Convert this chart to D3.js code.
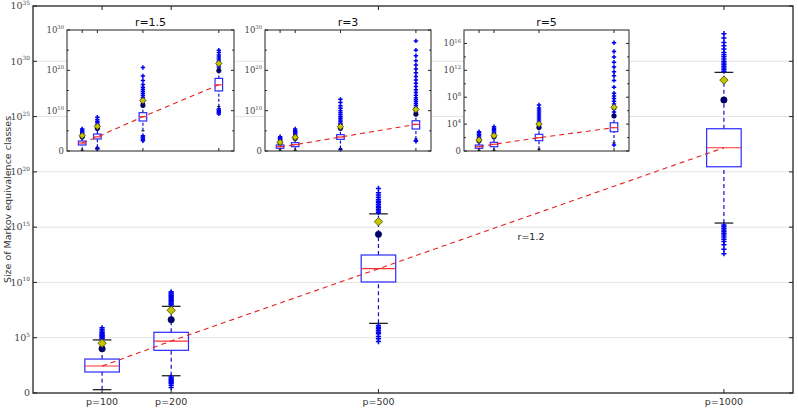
<!DOCTYPE html>
<html>
<head>
<meta charset="utf-8">
<script src="https://cdn.jsdelivr.net/npm/d3@7"></script>
<style>
  body { margin: 0; background: #fff; }
  svg { display: block; }
</style>
</head>
<body>
<div id="chart"></div>
<script>
// number of variables on the x axis
const pVals = [100, 200, 500, 1000];
const pLabels = ["p=100", "p=200", "p=500", "p=1000"];

// all y values are log10 of the class size
// boxes: [lower cap, q1, median, q3, upper cap]
const mainBoxes = [[0.3, 1.9, 2.44, 3.07, 4.8], [1.56, 3.86, 4.7, 5.49, 7.84], [6.3, 10.04, 11.24, 12.48, 16.2], [15.37, 20.46, 22.18, 23.9, 29.0]];
const mainMeans = [4.5, 7.48, 15.5, 28.3];
const mainCircles = [4.0, 6.63, 14.35, 26.5];
const mainHigh = [
  [4.9, 5.0, 5.1, 5.15, 5.2, 5.3, 5.4, 5.5, 5.6, 5.75, 5.9],
  [7.95, 8.05, 8.15, 8.25, 8.35, 8.45, 8.55, 8.65, 8.75, 8.85, 8.95, 9.05, 9.15],
  [16.3, 16.45, 16.6, 16.75, 16.9, 17.05, 17.2, 17.35, 17.5, 17.7, 17.9, 18.1, 18.5],
  [29.1, 29.25, 29.4, 29.55, 29.7, 29.85, 30.0, 30.2, 30.4, 30.6, 30.8, 31.1, 31.4, 31.7, 32.1, 32.5]
];
const mainLow = [
  [],
  [1.45, 1.35, 1.25, 1.15, 1.05, 0.95, 0.85, 0.7, 0.5],
  [6.1, 5.95, 5.8, 5.65, 5.5, 5.35, 5.1, 4.9, 4.65],
  [15.2, 15.05, 14.9, 14.75, 14.6, 14.45, 14.3, 14.1, 13.9, 13.7, 13.4, 13.0, 12.6]
];

// inset r=1.5
const r15Boxes = [[0.2, 1.49, 1.98, 2.48, 3.3], [0.9, 2.98, 3.5, 4.2, 5.3], [5.0, 7.44, 8.5, 9.5, 11.5], [11.0, 14.9, 16.4, 18.0, 20.5]];
const r15Means = [3.8, 6.1, 12.5, 21.7];
const r15Circles = [3.5, 5.6, 11.3, 19.9];
const r15High = [
  [3.4, 3.7, 4.0, 4.3, 4.6, 4.9, 5.2, 5.45],
  [5.5, 5.8, 6.2, 6.6, 7.0, 7.4, 7.8, 8.35],
  [11.8, 12.3, 12.8, 13.3, 13.8, 14.3, 14.8, 15.3, 15.8, 16.5, 17.5, 18.6, 20.7],
  [20.8, 21.3, 21.8, 22.3, 22.8, 23.3, 23.8, 24.4, 25.0]
];
const r15Low = [[], [0.66, 0.5], [3.8, 3.5, 3.2, 2.9, 2.55], [10.4, 10.1, 9.8, 9.5, 9.2]];

// inset r=3
const r3Boxes = [[0.2, 0.67, 1.07, 1.49, 2.4], [0.2, 1.07, 1.57, 2.07, 3.2], [0.6, 2.89, 3.47, 4.05, 5.5], [3.0, 5.45, 6.6, 7.5, 9.5]];
const r3Means = [2.15, 3.4, 6.03, 10.3];
const r3Circles = [2.0, 3.1, 5.6, 9.1];
const r3High = [
  [2.5, 2.7, 2.9, 3.1, 3.3, 3.55],
  [3.3, 3.6, 3.9, 4.2, 4.5, 4.8, 5.1, 5.45],
  [5.7, 6.1, 6.5, 6.9, 7.3, 7.7, 8.1, 8.5, 9.0, 9.5, 10.0, 10.6, 11.2, 12.0, 12.8],
  [9.7, 10.2, 10.7, 11.2, 11.7, 12.2, 12.7, 13.2, 13.8, 14.5, 15.2, 16.0, 16.8, 17.6, 18.5, 19.4, 20.3, 21.3, 22.4, 23.6, 25.0, 27.3]
];
const r3Low = [[], [], [0.4], [2.6, 2.4]];

// inset r=5
const r5Boxes = [[0.1, 0.4, 0.64, 0.89, 1.5], [0.1, 0.64, 1.0, 1.29, 2.0], [0.25, 1.53, 1.98, 2.48, 3.3], [1.2, 2.87, 3.47, 4.2, 5.0]];
const r5Means = [1.64, 2.28, 4.0, 6.5];
const r5Circles = [1.5, 2.1, 3.5, 5.2];
const r5High = [
  [1.7, 1.9, 2.1, 2.3, 2.5, 2.7, 2.87],
  [2.2, 2.4, 2.6, 2.8, 3.0, 3.2, 3.4, 3.6],
  [3.4, 3.7, 4.0, 4.3, 4.6, 4.9, 5.2, 5.5, 5.8, 6.1, 6.4, 6.85],
  [5.4, 5.8, 6.2, 6.6, 7.0, 7.4, 7.8, 8.2, 8.6, 9.5, 10.5, 11.2, 11.8, 12.5, 13.2, 14.0, 14.8, 16.1]
];
const r5Low = [[], [], [], [0.9]];

const mainTicks = [0, 5, 10, 15, 20, 25, 30, 35];
const r15Ticks = [0, 10, 20, 30];
const r15Minor = [5, 15, 25];
const r5Ticks = [0, 4, 8, 12, 16];
const r5Minor = [2, 6, 10, 14];

const W = 798, H = 414;
const svg = d3.select("#chart").append("svg").attr("width", W).attr("height", H);

const BLUE = "#2a2aff", RED = "#ff3030";

// y tick label: "0" or 10 with superscript
function expLabel(sel, e, fs) {
  if (e === 0) { sel.text("0"); return; }
  sel.append("tspan").text("10");
  sel.append("tspan").attr("dy", -fs * 0.45).attr("font-size", fs * 0.62).text(e);
}

function panel(box, yMax, data, opt) {
  const x = d3.scaleLinear().domain([0, 1100]).range([box.left, box.right]);
  const y = d3.scaleLinear().domain([0, yMax]).range([box.bottom, box.top]);
  const g = svg.append("g");

  g.append("rect").attr("x", box.left).attr("y", box.top)
    .attr("width", box.right - box.left).attr("height", box.bottom - box.top)
    .attr("fill", "#fff");

  if (opt.grid) {
    g.selectAll(".grid").data(opt.ticks.slice(1, -1)).join("line")
      .attr("x1", box.left).attr("x2", box.right)
      .attr("y1", d => y(d)).attr("y2", d => y(d))
      .attr("stroke", "#e4e4e4").attr("stroke-width", 1);
  }

  // inward ticks on both sides
  const ticks = opt.ticks.map(d => ({v: d, len: opt.tickLen}))
    .concat((opt.minor || []).map(d => ({v: d, len: opt.tickLen * 0.6})));
  ticks.forEach(t => {
    g.append("line").attr("x1", box.left).attr("x2", box.left + t.len)
      .attr("y1", y(t.v)).attr("y2", y(t.v)).attr("stroke", "#222");
    g.append("line").attr("x1", box.right).attr("x2", box.right - t.len)
      .attr("y1", y(t.v)).attr("y2", y(t.v)).attr("stroke", "#222");
  });
  opt.ticks.forEach(v => {
    const t = g.append("text").attr("x", box.left - 3).attr("y", y(v) + opt.fs * 0.35)
      .attr("text-anchor", "end").attr("font-family", "DejaVu Serif, serif")
      .attr("font-size", opt.fs).attr("fill", "#444");
    expLabel(t, v, opt.fs);
  });

  const bw = x(50) - x(0), cw = x(opt.capUnits) - x(0);

  pVals.forEach((p, i) => {
    const cx = x(p), b = data.boxes[i];
    // whiskers
    g.append("line").attr("x1", cx).attr("x2", cx).attr("y1", y(b[0])).attr("y2", y(b[1]))
      .attr("stroke", "#1010cc").attr("stroke-dasharray", opt.dash).attr("stroke-width", 1.2);
    g.append("line").attr("x1", cx).attr("x2", cx).attr("y1", y(b[3])).attr("y2", y(b[4]))
      .attr("stroke", "#1010cc").attr("stroke-dasharray", opt.dash).attr("stroke-width", 1.2);
    [b[0], b[4]].forEach(c => {
      g.append("line").attr("x1", cx - cw / 2).attr("x2", cx + cw / 2)
        .attr("y1", y(c)).attr("y2", y(c)).attr("stroke", "#111").attr("stroke-width", 1.2);
    });
    // outliers
    data.high[i].concat(data.low[i]).forEach(v => {
      g.append("path")
        .attr("d", `M${cx - opt.plus},${y(v)}H${cx + opt.plus}M${cx},${y(v) - opt.plus}V${y(v) + opt.plus}`)
        .attr("stroke", "#0000ee").attr("stroke-width", 1.5);
    });
    // box
    g.append("rect").attr("x", cx - bw / 2).attr("y", y(b[3]))
      .attr("width", bw).attr("height", y(b[1]) - y(b[3]))
      .attr("fill", "none").attr("stroke", BLUE).attr("stroke-width", 1.2);
    g.append("line").attr("x1", cx - bw / 2).attr("x2", cx + bw / 2)
      .attr("y1", y(b[2])).attr("y2", y(b[2])).attr("stroke", RED).attr("stroke-width", 1.2);
    // circle and mean diamond
    g.append("circle").attr("cx", cx).attr("cy", y(data.circles[i])).attr("r", opt.dot)
      .attr("fill", "#000070").attr("stroke", "#000040").attr("stroke-width", 0.6);
    const m = y(data.means[i]), d = opt.dia;
    g.append("path").attr("d", `M${cx},${m - d}L${cx + d},${m}L${cx},${m + d}L${cx - d},${m}Z`)
      .attr("fill", "#c4c400").attr("stroke", "#444400").attr("stroke-width", 0.8);
  });

  // dashed line through the medians
  const line = d3.line().x((b, i) => x(pVals[i])).y(b => y(b[2]));
  g.append("path").attr("d", line(data.boxes)).attr("fill", "none")
    .attr("stroke", "#e52020").attr("stroke-width", 1.1).attr("stroke-dasharray", "5,4");

  // bottom and top ticks
  pVals.forEach(p => {
    g.append("line").attr("x1", x(p)).attr("x2", x(p)).attr("y1", box.bottom).attr("y2", box.bottom - opt.tickLen).attr("stroke", "#222");
    g.append("line").attr("x1", x(p)).attr("x2", x(p)).attr("y1", box.top).attr("y2", box.top + opt.tickLen).attr("stroke", "#222");
  });

  g.append("rect").attr("x", box.left).attr("y", box.top)
    .attr("width", box.right - box.left).attr("height", box.bottom - box.top)
    .attr("fill", "none").attr("stroke", "#222").attr("stroke-width", opt.frame);

  return {g, x, y};
}

// main chart
const mainBox = {left: 33, right: 793, top: 6, bottom: 393};
const main = panel(mainBox, 35, {boxes: mainBoxes, means: mainMeans, circles: mainCircles, high: mainHigh, low: mainLow},
  {grid: true, ticks: mainTicks, tickLen: 4, fs: 9.5, capUnits: 27, plus: 2.6, dot: 3.2, dia: 4.2, dash: "4,3", frame: 1.3});

pVals.forEach((p, i) => {
  svg.append("text").attr("x", main.x(p)).attr("y", 405).attr("text-anchor", "middle")
    .attr("font-family", "DejaVu Sans, sans-serif").attr("font-size", 9.5).attr("fill", "#333")
    .text(pLabels[i]);
});

svg.append("text").attr("transform", `translate(8,${(mainBox.top + mainBox.bottom) / 2}) rotate(-90)`)
  .attr("text-anchor", "middle").attr("dy", "0.35em")
  .attr("font-family", "DejaVu Sans, sans-serif").attr("font-size", 9.5).attr("fill", "#333")
  .text("Size of Markov equivalence classes");

svg.append("text").attr("x", 531).attr("y", 240).attr("text-anchor", "middle")
  .attr("font-family", "DejaVu Sans, sans-serif").attr("font-size", 9.5).attr("fill", "#222")
  .text("r=1.2");

// insets
const insets = [
  {title: "r=1.5", box: {left: 67, right: 234, top: 30, bottom: 151}, yMax: 30, ticks: r15Ticks, minor: r15Minor,
   data: {boxes: r15Boxes, means: r15Means, circles: r15Circles, high: r15High, low: r15Low}},
  {title: "r=3", box: {left: 265, right: 431, top: 30, bottom: 151}, yMax: 30, ticks: r15Ticks, minor: r15Minor,
   data: {boxes: r3Boxes, means: r3Means, circles: r3Circles, high: r3High, low: r3Low}},
  {title: "r=5", box: {left: 464, right: 629, top: 30, bottom: 151}, yMax: 18, ticks: r5Ticks, minor: r5Minor,
   data: {boxes: r5Boxes, means: r5Means, circles: r5Circles, high: r5High, low: r5Low}}
];

insets.forEach(ins => {
  panel(ins.box, ins.yMax, ins.data,
    {grid: false, ticks: ins.ticks, minor: ins.minor, tickLen: 3, fs: 8.5, capUnits: 20, plus: 2.2, dot: 2.3, dia: 3.2, dash: "3,2", frame: 1});
  svg.append("text").attr("x", (ins.box.left + ins.box.right) / 2).attr("y", 26).attr("text-anchor", "middle")
    .attr("font-family", "DejaVu Sans, sans-serif").attr("font-size", 11).attr("fill", "#111")
    .text(ins.title);
});
</script>
</body>
</html>
